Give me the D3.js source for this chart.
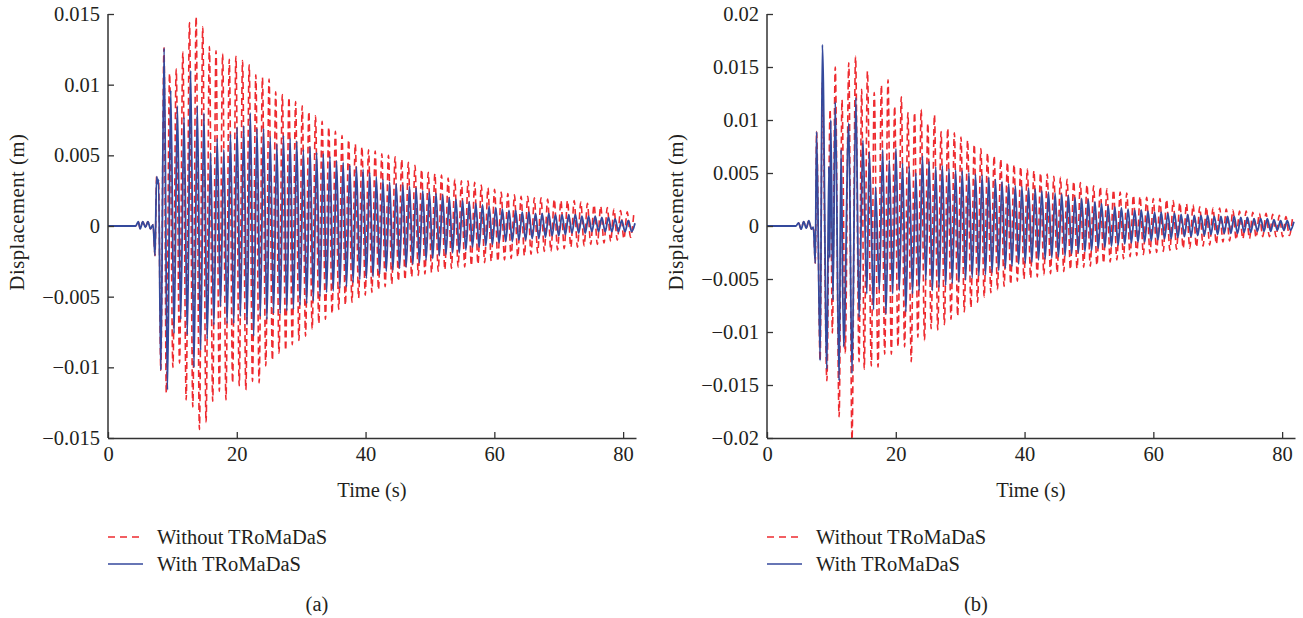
<!DOCTYPE html>
<html>
<head>
<meta charset="utf-8">
<script src="https://cdn.jsdelivr.net/npm/d3@7"></script>
<style>
  body { margin: 0; background: #fff; }
  svg { display: block; }
  text { font-family: "Liberation Serif", "DejaVu Serif", serif; fill: #231f20; }
</style>
</head>
<body>
<svg id="chart" width="1303" height="618"></svg>
<script>
// time axis
const timeTicks = [0, 20, 40, 60, 80]
const timeLabels = ["0", "20", "40", "60", "80"]

// displacement ticks (m)
const dispTicksA = [0.015, 0.01, 0.005, 0, -0.005, -0.01, -0.015]
const dispLabelsA = ["0.015", "0.01", "0.005", "0", "\u22120.005", "\u22120.01", "\u22120.015"]
const dispTicksB = [0.02, 0.015, 0.01, 0.005, 0, -0.005, -0.01, -0.015, -0.02]
const dispLabelsB = ["0.02", "0.015", "0.01", "0.005", "0", "\u22120.005", "\u22120.01", "\u22120.015", "\u22120.02"]

const seriesNames = ["Without TRoMaDaS", "With TRoMaDaS"]
const panelNames = ["(a)", "(b)"]

// oscillation period (s)
const period = 1.03

// all displacements below in mm
// (a) with TRoMaDaS: onset points [t, mm], then one trough + one peak per cycle
const aWithPre = [[0,0],[4.3,0],[4.7,0.3],[5.0,-0.2],[5.4,0.3],[5.8,-0.1],[6.2,0.3],[6.6,-0.2],[7.0,0.1],[7.3,-2.1],[7.55,3.5],[7.75,3.0],[7.85,3.3]]
const aWithStart = 8.2
const aWithLow = [-10.2,-11.6,-7.6,-6.6,-7.7,-10.0,-8.8,-8.0,-7.0,-5.7,-6.9,-6.9,-6.4,-7.0,-7.8,-6.4,-6.6,-6.2,-6.2,-6.0,
  -5.9,-5.6,-5.5,-5.3,-5.0,-4.7,-4.6,-4.4,-4.3,-4.0,-3.8,-3.7,-3.6,-3.4,-3.2,-3.1,-3.0,-2.9,-2.7,-2.6,
  -2.4,-2.3,-2.1,-2.0,-1.9,-1.9,-1.7,-1.5,-1.5,-1.4,-1.3,-1.2,-1.1,-1.1,-1.0,-1.0,-0.9,-0.9,-0.8,-0.7,
  -0.7,-0.6,-0.5,-0.5,-0.5,-0.4,-0.4,-0.4,-0.4,-0.4,-0.4,-0.4]
const aWithHigh = [12.6,9.6,8.5,7.7,11.0,8.5,8.0,5.2,6.2,5.4,6.5,7.0,7.1,8.0,6.9,6.9,6.3,5.8,6.4,6.2,
  6.0,5.4,5.6,5.2,5.1,4.9,4.6,4.5,4.3,4.2,4.0,3.8,3.5,3.3,3.1,3.0,2.9,2.8,2.7,2.5,
  2.4,2.3,2.2,2.0,1.9,1.8,1.7,1.6,1.5,1.4,1.3,1.2,1.1,1.1,1.0,1.0,0.9,0.9,0.9,0.8,
  0.8,0.8,0.8,0.7,0.7,0.7,0.6,0.6,0.5,0.4,0.4,0.2]

// (a) without TRoMaDaS
const aWithoutPre = [[0,0],[4.3,0],[4.7,0.3],[5.0,-0.2],[5.4,0.3],[5.8,-0.1],[6.2,0.3],[6.6,-0.2],[7.0,0.1],[7.3,-2.1],[7.55,3.5],[7.75,3.0],[7.85,3.3],[8.2,-10.2],[8.7,12.6]]
const aWithoutStart = 9.05
const aWithoutLow = [-11.8,-10.0,-9.7,-12.3,-12.8,-14.4,-13.9,-12.4,-11.7,-12.3,-11.1,-11.3,-11.6,-11.0,-11.1,-9.9,-9.5,-9.0,-8.8,-8.4,
  -8.1,-7.8,-7.3,-6.9,-6.6,-6.2,-5.9,-5.6,-5.4,-5.1,-4.9,-4.7,-4.5,-4.3,-4.1,-3.9,-3.8,-3.6,-3.5,-3.4,
  -3.3,-3.2,-3.1,-3.0,-2.9,-2.9,-2.8,-2.7,-2.6,-2.5,-2.5,-2.4,-2.3,-2.2,-2.1,-2.0,-1.9,-1.8,-1.8,-1.7,
  -1.6,-1.5,-1.5,-1.4,-1.3,-1.3,-1.2,-1.1,-1.0,-0.9,-0.8]
const aWithoutHigh = [10.8,11.1,12.3,14.4,14.8,14.1,12.7,12.4,12.2,11.8,12.0,11.7,11.4,10.7,10.5,10.4,9.5,9.3,9.1,8.8,
  8.5,8.1,7.8,7.4,7.0,6.7,6.4,6.1,5.8,5.6,5.4,5.3,5.1,5.0,4.9,4.7,4.5,4.3,4.0,3.8,
  3.7,3.6,3.4,3.3,3.2,3.2,3.1,2.9,2.7,2.6,2.4,2.3,2.2,2.1,2.1,2.0,2.0,1.9,1.9,1.8,
  1.8,1.8,1.7,1.6,1.5,1.4,1.3,1.2,1.1,1.0,0.9]

// (b) with TRoMaDaS
const bWithPre = [[0,0],[4.5,0],[4.9,0.3],[5.3,-0.3],[5.7,0.4],[6.1,-0.2],[6.5,0.5],[6.9,-0.3],[7.2,-0.1],[7.5,-3.5],[7.7,8.9],[8.25,-12.7],[8.6,17.1],[9.3,-13.5],[9.6,5.6],[9.75,-3.0],[9.9,10.0],[10.25,-7.0],[10.6,11.7],[11.2,-14.6],[11.5,7.2],[11.9,-11.4],[12.7,9.7],[13.2,-13.9],[13.8,12.1],[14.3,-8.6],[14.9,8.1],[15.5,-6.4],[15.9,7.0],[16.55,-7.9],[16.85,3.7]]
const bWithStart = 17.45
const bWithLow = [-6.0,-8.3,-6.4,-6.1,-8.1,-6.4,-6.1,-5.1,-6.1,-5.8,-5.6,-5.4,-5.3,-5.1,-4.9,-4.7,-4.6,-4.4,-4.2,-4.0,
  -3.8,-3.6,-3.5,-3.4,-3.2,-3.1,-3.0,-2.9,-2.8,-2.6,-2.5,-2.4,-2.3,-2.1,-2.0,-1.9,-1.8,-1.7,-1.6,-1.5,
  -1.5,-1.4,-1.3,-1.2,-1.2,-1.1,-1.0,-1.0,-0.9,-0.9,-0.8,-0.8,-0.7,-0.7,-0.7,-0.6,-0.6,-0.5,-0.5,-0.5,
  -0.4,-0.4,-0.4]
const bWithHigh = [7.2,6.2,7.3,5.9,5.6,5.0,6.6,6.1,5.6,5.7,5.4,5.3,5.2,5.0,4.9,4.8,4.6,4.4,4.2,4.0,
  3.8,3.7,3.6,3.5,3.3,3.2,3.1,3.0,2.9,2.7,2.6,2.5,2.3,2.1,1.9,1.8,1.7,1.6,1.5,1.5,
  1.4,1.3,1.3,1.2,1.2,1.1,1.1,1.0,1.0,1.0,0.9,0.9,0.9,0.9,0.8,0.8,0.7,0.7,0.7,0.6,
  0.5,0.5,0.4]

// (b) without TRoMaDaS
const bWithoutPre = [[0,0],[4.5,0],[4.9,0.3],[5.3,-0.3],[5.7,0.4],[6.1,-0.2],[6.5,0.5],[6.9,-0.3],[7.2,-0.1],[7.5,-3.5],[7.7,8.9],[8.25,-12.7],[8.6,13.5],[9.3,-14.6],[9.8,11.0],[10.15,-10.1],[10.6,15.0],[11.2,-18.0],[11.65,11.9],[12.15,-12.0],[12.7,15.4],[13.2,-20.2],[13.75,16.0],[14.3,-12.8],[14.7,12.9],[15.1,-13.5],[15.6,14.6],[16.2,-13.2],[16.65,12.6]]
const bWithoutStart = 17.25
const bWithoutLow = [-13.3,-12.1,-12.1,-11.4,-11.4,-12.8,-10.5,-10.8,-9.7,-9.8,-9.3,-8.8,-8.5,-8.1,-7.7,-7.2,-6.7,-6.3,-6.0,-5.7,
  -5.5,-5.2,-5.0,-4.9,-4.8,-4.6,-4.5,-4.4,-4.3,-4.1,-4.0,-3.9,-3.8,-3.7,-3.5,-3.4,-3.2,-3.1,-2.9,-2.8,
  -2.7,-2.6,-2.5,-2.4,-2.3,-2.2,-2.1,-2.1,-2.0,-1.9,-1.8,-1.7,-1.5,-1.4,-1.3,-1.2,-1.2,-1.1,-1.0,-1.0,
  -1.0,-1.0,-0.9]
const bWithoutHigh = [13.3,13.8,11.3,12.2,10.7,10.7,11.0,9.7,10.5,8.9,9.2,8.8,8.4,8.1,7.7,7.3,6.9,6.6,6.3,6.0,
  5.8,5.6,5.4,5.2,5.0,4.9,4.7,4.6,4.4,4.2,4.1,3.9,3.8,3.7,3.5,3.4,3.2,3.1,2.9,2.8,
  2.7,2.6,2.6,2.5,2.4,2.2,2.1,2.0,1.8,1.8,1.7,1.7,1.6,1.5,1.4,1.4,1.3,1.2,1.2,1.1,
  1.0,0.9,0.8]

const redColor = "#ee2a2f"
const blueColor = "#34499c"

function buildSeries(pre, start, lows, highs) {
    const pts = pre.map(d => ({ t: d[0], v: d[1] / 1000 }))
    lows.forEach((lo, i) => {
        pts.push({ t: start + i * period, v: lo / 1000 })
        pts.push({ t: start + i * period + period / 2, v: highs[i] / 1000 })
    })
    return pts
}

const panels = [
    {
        left: 108, name: panelNames[0], ticks: dispTicksA, labels: dispLabelsA, ymax: 0.015,
        without: buildSeries(aWithoutPre, aWithoutStart, aWithoutLow, aWithoutHigh),
        with: buildSeries(aWithPre, aWithStart, aWithLow, aWithHigh)
    },
    {
        left: 767, name: panelNames[1], ticks: dispTicksB, labels: dispLabelsB, ymax: 0.02,
        without: buildSeries(bWithoutPre, bWithoutStart, bWithoutLow, bWithoutHigh),
        with: buildSeries(bWithPre, bWithStart, bWithLow, bWithHigh)
    }
]

const svg = d3.select("#chart")
const plotTop = 14, plotBottom = 438, plotW = 528
const fontSize = "20.5px"

panels.forEach((p, pi) => {
    const g = svg.append("g").attr("transform", `translate(${p.left},0)`)

    const x = d3.scaleLinear().domain([0, 82]).range([0, plotW])
    const y = d3.scaleLinear().domain([-p.ymax, p.ymax]).range([plotBottom, plotTop])

    const clipId = "clip" + pi
    g.append("clipPath").attr("id", clipId)
        .append("rect").attr("x", 0).attr("y", plotTop - 2).attr("width", plotW).attr("height", plotBottom - plotTop + 2)

    const line = d3.line()
        .x(d => x(d.t))
        .y(d => y(d.v))
        .curve(d3.curveMonotoneX)

    const lines = g.append("g").attr("clip-path", `url(#${clipId})`)
    lines.append("path")
        .datum(p.without)
        .attr("fill", "none")
        .attr("stroke", redColor)
        .attr("stroke-width", 1.6)
        .attr("stroke-dasharray", "7,4")
        .attr("d", line)
    lines.append("path")
        .datum(p.with)
        .attr("fill", "none")
        .attr("stroke", blueColor)
        .attr("stroke-width", 1.8)
        .attr("d", line)

    // axes: ticks point inward
    const xAxis = g.append("g")
        .attr("transform", `translate(0,${plotBottom})`)
        .call(d3.axisBottom(x).tickValues(timeTicks).tickFormat((d, i) => timeLabels[i])
            .tickSizeInner(-6).tickSizeOuter(0).tickPadding(8))
    const yAxis = g.append("g")
        .call(d3.axisLeft(y).tickValues(p.ticks).tickFormat((d, i) => p.labels[i])
            .tickSizeInner(-6).tickSizeOuter(0).tickPadding(8))

    ;[xAxis, yAxis].forEach(a => {
        a.select(".domain").attr("stroke", "#333").attr("stroke-width", 1.5)
        a.selectAll(".tick line").attr("stroke", "#333").attr("stroke-width", 1.3)
        a.selectAll(".tick text")
            .attr("fill", "#231f20")
            .style("font-family", '"Liberation Serif", serif')
            .style("font-size", fontSize)
    })
    yAxis.select(".domain").attr("d", `M0,${plotTop}V${plotBottom}`)

    g.append("text")
        .attr("x", plotW / 2).attr("y", 497)
        .attr("text-anchor", "middle")
        .style("font-size", fontSize)
        .text("Time (s)")

    g.append("text")
        .attr("transform", `translate(${-84},${212}) rotate(-90)`)
        .attr("text-anchor", "middle")
        .style("font-size", fontSize)
        .style("letter-spacing", "0.6px")
        .text("Displacement (m)")

    // legend
    const leg = g.append("g").attr("transform", "translate(0,537)")
    leg.append("line").attr("x1", 0).attr("x2", 35).attr("y1", 0).attr("y2", 0)
        .attr("stroke", redColor).attr("stroke-width", 1.4).attr("stroke-dasharray", "7,5")
    leg.append("text").attr("x", 49).attr("y", 7).style("font-size", fontSize).text(seriesNames[0])
    leg.append("line").attr("x1", 0).attr("x2", 35).attr("y1", 27).attr("y2", 27)
        .attr("stroke", blueColor).attr("stroke-width", 1.4)
    leg.append("text").attr("x", 49).attr("y", 34).style("font-size", fontSize).text(seriesNames[1])

    g.append("text")
        .attr("x", 209).attr("y", 611)
        .attr("text-anchor", "middle")
        .style("font-size", fontSize)
        .text(p.name)
})
</script>
</body>
</html>
